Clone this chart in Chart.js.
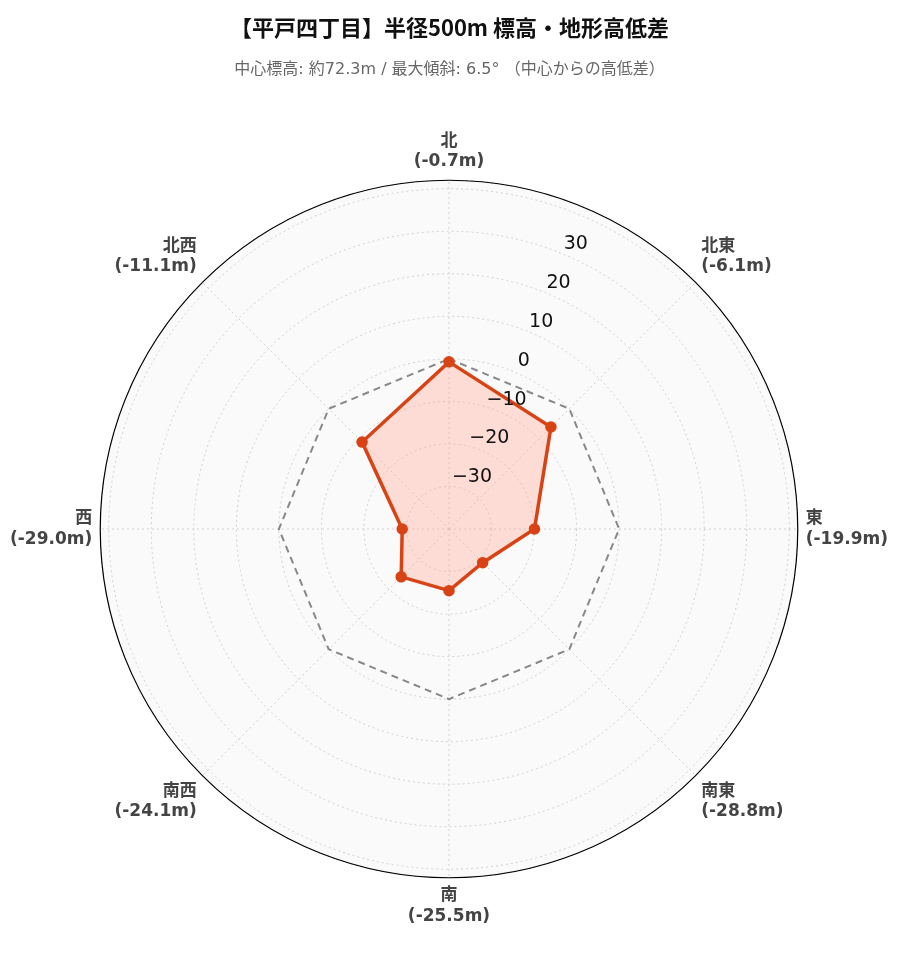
<!DOCTYPE html>
<html>
<head>
  <meta charset="UTF-8">
  <title>平戸四丁目 標高</title>
  <style>
    body { margin: 0; background: #fff; }
    #wrap { width: 899px; height: 962px; }
  </style>
  <script src="https://cdn.jsdelivr.net/npm/chart.js"></script>
</head>
<body>
  <div id="wrap"><canvas id="chart"></canvas></div>
  <script>
  const directions = ["北", "北東", "東", "南東", "南", "南西", "西", "北西"];
  const diffs = [-0.7, -6.1, -19.9, -28.8, -25.5, -24.1, -29.0, -11.1];
  const baseline = [0, 0, 0, 0, 0, 0, 0, 0];
  const tickValues = [30, 20, 10, 0, -10, -20, -30];

  const FONT = "'DejaVu Sans', 'Noto Sans CJK JP', sans-serif";

  // background disc, outer circle and angled tick labels
  const decor = {
    id: "decor",
    beforeDraw(chart) {
      const s = chart.scales.r, ctx = chart.ctx;
      const R = s.getDistanceFromCenterForValue(s.max);
      ctx.save();
      ctx.beginPath();
      ctx.arc(s.xCenter, s.yCenter, R, 0, Math.PI * 2);
      ctx.fillStyle = "#fafafa";
      ctx.fill();
      ctx.restore();
    },
    beforeDatasetsDraw(chart) {
      const s = chart.scales.r, ctx = chart.ctx;
      const R = s.getDistanceFromCenterForValue(s.max);
      ctx.save();
      ctx.beginPath();
      ctx.arc(s.xCenter, s.yCenter, R, 0, Math.PI * 2);
      ctx.strokeStyle = "#000";
      ctx.lineWidth = 1.2;
      ctx.stroke();
      ctx.restore();
    },
    afterDatasetsDraw(chart) {
      const s = chart.scales.r, ctx = chart.ctx;
      ctx.save();
      ctx.font = "19px " + FONT;
      ctx.fillStyle = "#111";
      ctx.textAlign = "center";
      ctx.textBaseline = "middle";
      const ang = 24 * Math.PI / 180;
      tickValues.forEach(v => {
        const d = s.getDistanceFromCenterForValue(v) + 14;
        const label = v < 0 ? "\u2212" + Math.abs(v) : String(v);
        ctx.fillText(label, s.xCenter + d * Math.sin(ang), s.yCenter - d * Math.cos(ang));
      });
      ctx.restore();
    }
  };

  new Chart(document.getElementById("chart"), {
    type: "radar",
    data: {
      labels: directions.map((d, i) => [d, "(" + diffs[i].toFixed(1) + "m)"]),
      datasets: [
        {
          data: diffs,
          borderColor: "#d84315",
          backgroundColor: "rgba(255, 170, 150, 0.38)",
          borderWidth: 3.5,
          fill: "start",
          pointRadius: 4,
          pointBackgroundColor: "#d84315",
          pointBorderColor: "#d84315"
        },
        {
          data: baseline,
          borderColor: "#888",
          borderDash: [7, 5],
          borderWidth: 2,
          fill: false,
          pointRadius: 0
        }
      ]
    },
    options: {
      responsive: true,
      maintainAspectRatio: false,
      animation: false,
      layout: { padding: { top: 0, bottom: 14, left: 10, right: 10 } },
      plugins: {
        legend: { display: false },
        tooltip: { enabled: false },
        title: {
          display: true,
          text: "【平戸四丁目】半径500m 標高・地形高低差",
          font: { family: "'Noto Sans CJK JP', sans-serif", size: 22, weight: "bold" },
          color: "#111",
          padding: { top: 14, bottom: 20 }
        },
        subtitle: {
          display: true,
          text: "中心標高: 約72.3m / 最大傾斜: 6.5° （中心からの高低差）",
          font: { family: FONT, size: 16 },
          color: "#666",
          padding: { bottom: 32 }
        }
      },
      scales: {
        r: {
          min: -40,
          max: 42,
          ticks: { display: false, stepSize: 10 },
          grid: { circular: true, color: "#d0d0d0" },
          border: { dash: [2, 3] },
          angleLines: { color: "#d0d0d0", borderDash: [2, 3] },
          pointLabels: {
            font: { family: FONT, size: 17, weight: "bold" },
            color: "#444",
            padding: 8
          }
        }
      }
    },
    plugins: [decor]
  });
  </script>
</body>
</html>
